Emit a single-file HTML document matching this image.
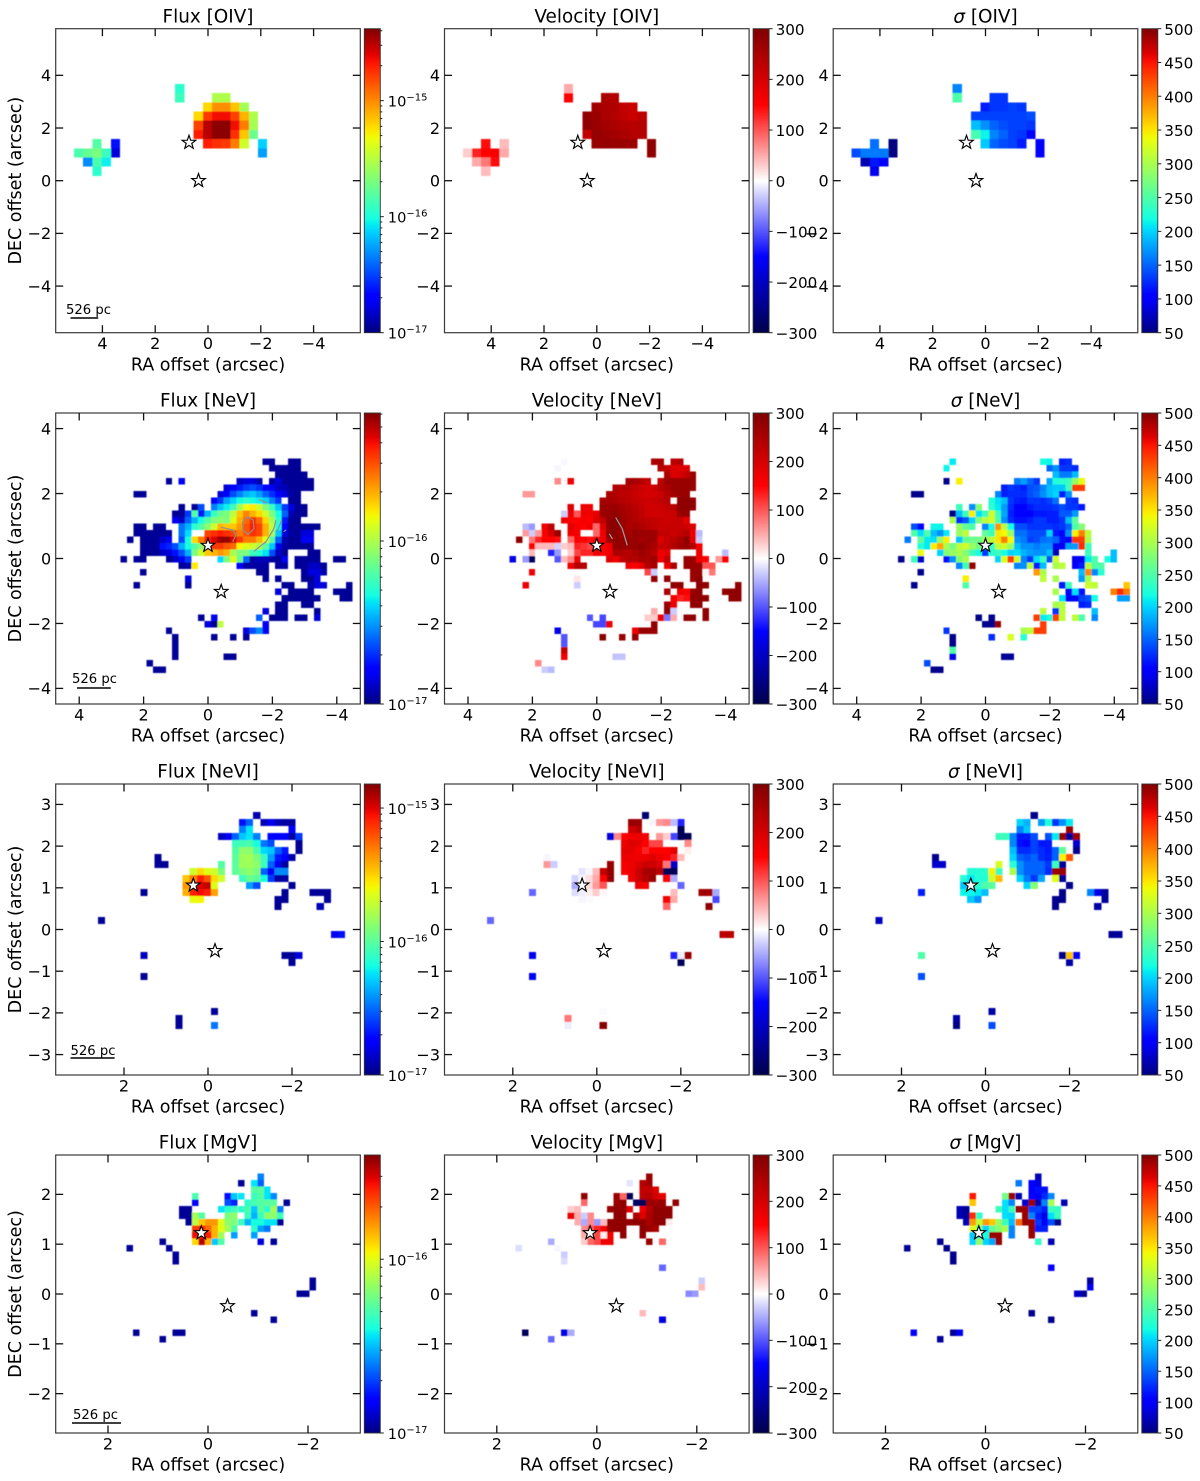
<!DOCTYPE html>
<html lang="en">
<head>
<meta charset="utf-8">
<title>Emission line maps</title>
<style>
html,body{margin:0;padding:0;background:#fff}
svg{display:block}
text{font-family:"DejaVu Sans","Liberation Sans",sans-serif;fill:#000}
</style>
</head>
<body>
<svg id="figure" xmlns="http://www.w3.org/2000/svg" width="1200" height="1481" viewBox="0 0 1200 1481">
<defs><filter id="soft" x="-5%" y="-5%" width="110%" height="110%"><feGaussianBlur stdDeviation="0.45"/></filter></defs>
</svg>
<script>
/* Map cells: each entry is [gridRow, firstGridColumn, value, value, ...].
   Flux values = position on the logarithmic colour bar in percent; velocity and sigma = km/s. */
const fluxOIV=[[0,11,40],[1,11,42],[1,15,56,56],[2,14,68,76,76,70,55],[3,13,68,85,90,90,84,72,56],[4,13,84,95,99,99,90,78,55],[5,13,88,95,99,99,86,70,48],[6,2,45],[6,4,14],[6,14,88,86,85,78,60],[6,20,33],[7,0,44,47,50,42,8],[7,20,28],[8,1,26,44,36],[9,2,40]];
const velOIV=[[0,11,50],[1,11,150],[1,15,250,240],[2,14,260,250,245,220,215],[3,13,280,270,250,240,225,215,230],[4,13,280,270,260,250,240,235,240],[5,13,220,275,265,260,250,240,240],[6,2,140],[6,4,40],[6,14,270,275,270,270,265],[6,20,280],[7,0,30,130,150,160,50],[7,20,280],[8,1,50,80,140],[9,2,40]];
const sigOIV=[[0,11,165],[1,11,250],[1,15,130,130],[2,14,120,130,130,135,130],[3,13,135,135,135,135,135,135,140],[4,13,190,170,150,140,135,135,130],[5,13,245,215,165,150,135,130,100],[6,2,155],[6,4,50],[6,14,195,150,140,135,120],[6,20,105],[7,0,140,160,160,160,50],[7,20,105],[8,1,70,115,105],[9,2,95]];

const fluxNeV=[[0,22,2,2],[0,26,2,2],[1,23,2,2,2,2,2],[2,24,2,2,2,2,2],[3,7,2],[3,9,12],[3,18,6,8,8,4],[3,23,2,8,2,2,2,2,2],[4,16,8,12,15,18,20,17,12,10,6,5,2,2,2,2],[5,2,2,2],[5,15,8,12,20,25,30,32,28,22,17,12,8,3,2],[6,14,12,18,28,33,38,40,38,36,33,25,18],[6,26,2,2],[7,9,2],[7,11,2,20],[7,14,25,32,36,42,55,64,66,60,50,42,32,18,8,2,2],[8,8,2,2,18,45,15,30,42,48,50,58,70,77,72,68,60,50,38,22,4,2,2],[9,8,10,6,22,30,38,45,50,52,50,62,72,80,86,80,68,55,40,15,2,2],[10,2,2,2],[10,5,2,2],[10,9,24,30,40,45,52,60,72,70,70,75,82,88,84,72,58,38,12,2,2,2,2,2],[11,2,2,2,2,2,2,2],[11,9,24,34],[11,13,84,86,88,86,84,78,82,86,84,72,55,32,8,3,2,8,8],[12,1,2],[12,3,2,2,2,6,10],[12,9,20,38,68,78,88,92,98,98,92,85,78,78,72,62,45,22,4,2,2,10,10],[13,3,2,2,2,14,16,20,30,38,45,52,75,85,85,82,80,65,62,60,56,45,32,10,3,2,2,2,2],[14,3,2,2,2,6,8,14,20,30,50,60,70,72,75,72,55,50,50,42,40,35,20,6,2],[14,29,2,2],[15,0,2],[15,2,2,2],[15,7,2,6,10,18],[15,15,34,50,62,48,22,3,5,5,3,2,10],[15,27,2,2,2,2],[15,33,2,2],[16,9,2,4,66],[16,18,12,3,3,3,3],[16,24,3,3],[16,27,2,2,6,6,2],[17,3,2],[17,21,2,2],[17,28,2,8,8,4],[18,10,8],[18,22,2],[18,24,2],[18,28,2,2,8],[19,2,2],[19,10,2],[19,25,2,2],[19,29,4,8,8],[19,35,2],[20,24,8],[20,26,2,2,2,2],[20,33,2,2,2],[21,25,2,2,2,2,2,2],[21,34,2,2],[22,24,2,2],[22,28,2,2],[23,22,8],[23,24,2,2],[23,30,2],[24,12,2],[24,14,10],[24,21,22],[24,23,2,2,2],[24,27,2,2],[24,30,8],[25,13,8,2,58],[25,22,10],[26,7,2],[26,19,8,20,26,10],[27,8,2],[27,14,2],[27,17,2],[27,19,2],[28,8,2],[29,8,2],[30,8,2],[30,16,2,2],[31,4,2],[32,5,2,2]];
const velNeV=[[0,8,-4],[0,22,250,250],[0,25,230,240],[1,7,-5],[1,23,240,220,190,190,190],[2,24,250,190,200,220,270],[3,7,70],[3,9,170],[3,18,260,255,240,220],[3,23,230,270,270,270,270,270],[4,16,240,240,235,220,210,200,210,240,250,270,270,270,270],[5,2,60,60],[5,15,250,240,230,225,215,205,200,200,215,240,260,270,270],[6,14,255,255,245,240,230,220,215,210,215,225,235],[6,26,280,280,280],[7,9,190],[7,11,170,170],[7,14,270,265,270,255,245,235,220,205,205,210,220,235,280,280,280],[8,8,-30,170,100,170,165,180,265,270,280,260,250,240,225,210,205,205,210,215,270,275],[9,8,170,150,150,160,150,190,220,280,285,270,255,240,235,225,220,215,210,215,215,180],[10,2,-40,-60],[10,5,170,230],[10,9,180,160,150,165,90,185,280,285,270,250,255,245,235,225,215,215,215,215,210,190],[11,2,60,-30,60,160,200,270],[11,9,170,160],[11,13,90,170,285,285,260,260,275,270,265,265,220,220,210,220,240,170,-40],[12,1,280],[12,3,80,130,150,150,145],[12,9,90,150,150,140,160,165,265,280,275,270,270,260,265,265,190,220,230,250,280,180,-30],[13,3,150,40,40,40,-25,30,40,130,120,110,130,150,170,280,275,270,275,280,265,250,215,220,240,260,270,240,160],[14,3,40],[14,6,-130,-60],[14,9,30,110,130,130,170,150,170,250,245,235,250,265,255,235,170,180],[14,29,170],[14,33,-40],[15,0,-170],[15,2,-60,-290],[15,7,-100,40,70,170],[15,15,190,170,220,240,240,255,250,265,170,220],[15,27,270,270,170,150],[15,32,60,150],[16,9,170,240,240],[16,18,170,150,180,240,255],[16,24,170,250],[16,27,270,270,270,100,100],[17,3,170],[17,21,110,-30],[17,28,270,270,5,80],[18,10,15],[18,22,280],[18,24,280],[18,28,270,280],[19,2,170],[19,10,-30],[19,25,280,280],[19,29,280,280],[19,35,280],[20,24,250],[20,26,170,150,270,280],[20,33,280,280,280],[21,25,160,130,140,280,280,280],[21,34,280,280],[22,24,270,170],[22,28,280,280],[23,22,50],[23,24,280,-30],[23,30,280],[24,12,-100],[24,14,-110],[24,21,30,30,170,-80,50],[24,27,280,280],[24,30,280],[25,13,-110,-110,170],[25,22,280],[26,7,-170],[26,19,170,270,270,270],[27,8,-100],[27,14,290],[27,17,270],[27,19,280],[28,8,-100],[29,8,220],[30,8,170],[30,16,-35,-35],[31,4,70],[32,5,-30,-40]];
const sigNeV=[[0,8,210],[0,22,220,215],[0,25,120,125],[1,7,215],[1,23,150,170,130,130,125],[2,24,190,160,160,190],[3,7,55],[3,9,345],[3,18,160,175,150,130],[3,23,180,225,230,240,290,335],[4,16,120,130,125,120,140,145,165,190,195,195,240,430,430],[5,2,55,55],[5,15,165,120,125,125,125,140,150,170,190,200,120,170],[6,14,225,205,190,130,120,115,130,130,125,135,155],[6,26,130,125],[7,9,240],[7,11,170,280],[7,14,230,210,175,125,105,100,115,125,125,125,130,140,130,130,115],[8,8,55,190,240,345,205,240,320,240,180,120,105,100,105,115,115,120,120,145,145,175],[9,8,300,125,145,200,275,310,320,250,170,125,110,110,120,130,130,120,120,130,190,260],[10,2,140,100],[10,5,215,215],[10,9,290,260,250],[10,13,165,220,390,310,220,140,140,130,130,130,130,125,130,150,250,280],[11,2,250,205,250,190,170,210],[11,9,290,310],[11,13,260,240,350,340,290,155,155,140,140,140,200,115,105,170,345,400,310],[12,1,160],[12,3,260,210,205,290,345],[12,9,195,260,265,270,290,310,350,400,340,170,160,135,140,155,160,150,110,100,430,430,300],[13,3,225,210,345,380,300,270,310,320,290,270,220,240,310,320,290,190,170,170,160,170,170,95,95,175,175,440,240],[14,3,335],[14,6,200,280,290,300,280,240,220,130,230,240,220,200,205,185,175,170,170,190,70],[14,29,240],[14,33,190],[15,0,55],[15,2,240,80],[15,7,110,170,280,300],[15,15,200,325,430,320,165,130,205,240,140,320],[15,27,95,95,210,250],[15,32,220,190],[16,9,165,240,490],[16,18,165,170,310,120,190],[16,24,300,310],[16,27,100,120,310,250,250],[17,3,55],[17,21,385,300],[17,28,190,395,165,230],[18,10,345],[18,22,310],[18,24,300],[18,28,175,300],[19,2,55],[19,10,250],[19,25,115,240],[19,29,320,310],[19,35,365],[20,24,300],[20,26,100,205,110],[20,33,400,440,400],[21,25,205,100,100,135,140,220],[21,34,175,175],[22,24,300,305],[22,28,120,125],[23,22,310],[23,24,130,310],[23,30,190],[24,12,55],[24,14,55],[24,21,430,210,220,430,310],[24,27,310,250],[24,30,165],[25,13,55,55,490],[25,22,430],[26,7,130],[26,19,300,310,430,430],[27,8,55],[27,14,125],[27,17,325],[27,19,230],[28,8,55],[29,8,250],[30,8,90],[30,16,60,60],[31,4,140],[32,5,55,55]];

const fluxNeVI=[[0,22,4],[1,20,14,22],[1,23,5,10,5,3,3],[2,20,25,35],[2,27,12],[3,17,6,10,22,32,35,25],[3,24,12,12,12,3,18],[4,19,42,43,44,38,24,20],[4,28,2],[5,19,45,52,52,44,34,32,22,15],[5,28,2],[6,8,2],[6,19,46,54,55,50,42,28,15,12,4],[7,8,2,2],[7,17,45],[7,19,46,54,54,52,42,22,10,3],[8,13,60,68,62,60,50],[8,19,46,50,52,50,22,12,26,26],[9,12,70,78,88,82,68,60],[9,20,42,48,46,38,18],[9,25,3,3],[10,12,75,85,92,94,62],[10,21,28,20],[10,27,2],[11,6,2],[11,12,72,88,90,88,74],[11,26,2],[11,30,2,2,2],[12,13,63,65],[12,25,2,2],[12,32,2],[13,25,2],[13,31,5],[15,0,2],[17,33,10,14],[20,6,5],[20,26,2,2,8],[21,27,2],[23,6,2],[28,16,2],[29,11,2],[30,11,2],[30,16,24]];
const velNeVI=[[0,22,-270],[1,20,270,265],[1,23,-5,60,70,-40,-130],[2,20,210,230],[2,27,-290],[3,17,-180,70,150,170,170,160],[3,24,60,30,-110,-290,-290],[4,19,170,190,180,150,110,110],[4,28,70],[5,19,180,180,160,130,150,150,150,180],[5,28,10],[6,8,-5],[6,19,175,170,170,170,190,170,160,130,40],[7,8,60,-30],[7,17,270],[7,19,160,170,190,210,210,190,80,-200],[8,13,-15,-5,40,220,280],[8,19,160,170,210,250,260,230,-290,-290],[9,12,-25,-5,20,50,150,280],[9,20,170,210,240,270],[9,25,150,-50],[10,12,-50,-10,20,60,100],[10,21,170,160],[10,27,-90],[11,6,-90],[11,12,-20,-10,10,30,5],[11,26,40],[11,30,260,260,-50],[12,13,-5,-3],[12,25,160,50],[12,32,-110],[13,25,90],[13,31,280],[15,0,-90],[17,33,230,230],[20,6,-160],[20,26,-130,-10,270],[21,27,-290],[23,6,-160],[28,16,-3],[29,11,80],[30,11,-10],[30,16,290]];
const sigNeVI=[[0,22,55],[1,20,200,185],[1,23,175,225,130,170,210],[2,20,165,195],[2,27,490],[3,17,240,240,165,115,115,140],[3,24,140,210,490,60,490],[4,19,165,110,105,135,115,115],[4,28,80],[5,19,190,125,125,135,125,115,150,260],[5,28,55],[6,8,55],[6,19,200,150,140,150,125,120,150,345,420],[7,8,80,80],[7,17,325],[7,19,230,170,150,150,150,130,240,60],[8,13,225,225,230,345,240],[8,19,300,170,150,150,150,125,490,490],[9,12,225,210,225,225,320,370],[9,20,200,160,130,180],[9,25,330,60],[10,12,195,190,230,250,255],[10,21,200,280],[10,27,55],[11,6,120],[11,12,215,215,210,190],[11,26,55],[11,30,165,90,60],[12,13,195,170],[12,25,55,55],[12,32,60],[13,25,55],[13,31,65],[15,0,75],[17,33,60,60],[20,6,250],[20,26,55,365,95],[21,27,65],[23,6,140],[28,16,65],[29,11,65],[30,11,50],[30,16,140]];

const fluxMgV=[[0,20,25],[1,17,2],[1,19,35,22],[2,19,45,46,35],[3,10,44],[3,15,14,32,35],[3,19,42,45,35,26],[4,10,12],[4,15,20,16],[4,18,40,44,45,46,46],[4,24,2],[5,8,2,2],[5,14,35,40,42,40,44,32,46,40,55,25],[6,8,2,2,55,45],[6,15,50,52],[6,18,42,30,42,52,52,42],[7,9,2,58,70,75,75,62,52,50,42,30,38,38,35,35,2],[8,10,85,88,80,72,62,55,44],[8,19,40,28,24],[9,10,90,88,88,72,55],[9,16,28],[9,19,28],[10,5,2],[10,10,68,95,72,32,45],[10,20,8],[10,22,2],[11,0,2],[11,6,2],[12,7,2],[13,7,2],[16,28,2],[17,28,2],[18,26,2,2],[21,19,2],[22,22,2],[24,1,2],[24,7,2,2],[25,5,2]];
const velMgV=[[0,20,270],[1,17,-15],[1,19,240,260],[2,19,220,220,190],[3,10,280],[3,15,270,90,-290],[3,19,230,240,200,180],[4,10,90],[4,15,270,280],[4,18,-280,-290,270,260,270],[4,24,280],[5,8,30,40],[5,14,270,280,280,190],[5,19,170,240,280,280,280],[6,8,170,50,-30,70],[6,15,280,280],[6,18,250,190,250,280,280,280],[7,9,50,-50,70,-60,40,280,280,280,280,280,280,250,280,280,10],[8,10,70,100,130,160,270,280,280],[8,19,280,270,250],[9,10,50,60,110,10,160],[9,16,280],[9,19,280],[10,5,-50],[10,10,30,90,110,170,170],[10,20,270],[10,22,90],[11,0,-20],[11,6,-5],[12,7,-30],[13,7,-20],[14,22,-90],[16,28,-30],[17,28,40],[18,26,-70,-60],[21,19,40],[22,22,-170],[24,1,-290],[24,7,-170,-50],[25,5,-90]];
const sigMgV=[[0,20,70],[1,17,160],[1,19,100,90],[2,19,100,110,110],[3,10,450],[3,15,270,490,70],[3,19,100,100,125,165],[4,10,365],[4,15,205,165],[4,18,80,490,70,165,300],[4,24,70],[5,8,70,60],[5,14,240,205,240,490,490,135,135,120,240,235],[6,8,70,60,440,230],[6,15,205,200],[6,18,490,165,120,90,205,240],[7,9,70,385,310,385,365,290,240,190,410,490,490,130,100,140,55],[8,10,330,270,200,260,280,300,165],[8,19,490,120,120],[9,10,195,210,220,490,490],[9,16,165],[9,19,490],[10,5,55],[10,10,200,290,200,180,490],[10,20,235],[10,22,70],[11,0,60],[11,6,55],[12,7,55],[13,7,55],[14,22,100],[16,28,60],[17,28,95],[18,26,80,60],[21,19,55],[22,22,55],[24,1,100],[24,7,60,95],[25,5,60]];

/* Tick values and labels */
const velTicks=[-300,-200,-100,0,100,200,300];
const sigTicks=[50,100,150,200,250,300,350,400,450,500];
const fluxTicksOIV=[-17,-16,-15];
const fluxTicksNeV=[-17,-16];
const fluxTicksNeVI=[-17,-16,-15];
const fluxTicksMgV=[-17,-16];
const raTicksOIV=[4,2,0,-2,-4];
const decTicksOIV=[4,2,0,-2,-4];
const raTicksNeV=[4,2,0,-2,-4];
const decTicksNeV=[4,2,0,-2,-4];
const raTicksNeVI=[2,0,-2];
const decTicksNeVI=[3,2,1,0,-1,-2,-3];
const raTicksMgV=[2,0,-2];
const decTicksMgV=[2,1,0,-1,-2];
const lineNames=['OIV','NeV','NeVI','MgV'];
const starsOIV=[[0.72,1.45],[0.36,0]];
const starsNeV=[[0,0.4],[-0.41,-1.02]];
const starsNeVI=[[0.35,1.06],[-0.167,-0.51]];
const starsMgV=[[0.134,1.225],[-0.39,-0.24]];
/* Contours in grid (column,row) coordinates */
const contoursFluxNeV=[[[18.9,9.8],[19.7,9],[20.6,9.5],[20.7,10.8],[19.8,11.7],[19,11.05],[18.9,9.8]],[[15.6,10.6],[17.4,11],[17.9,11.8],[17.4,12.85]],[[21.5,6.3],[22.7,6.9]],[[22.4,13.1],[23.8,10.8],[24.1,9.5]],[[20.7,14.3],[22.5,12.85]],[[24.3,11.2],[25,9.5]],[[25.3,11.3],[25.7,11]]];
const contoursVelNeV=[[[16.5,9.1],[17.5,10.8],[18.3,13.4]],[[15.5,11.6],[16,12.4]]];

/* Layout */
const colLeft=[55.7,444.5,833.2], axW=304.6, cbGap=4, cbW=16;
const rowCfg=[
 {top:28.7,h:304,xl:5.77,yl:5.77,ra0:5.076,dec0:3.67,pix:0.3485,decades:2.62,ft:fluxTicksOIV,xt:raTicksOIV,yt:decTicksOIV,stars:starsOIV,maps:[fluxOIV,velOIV,sigOIV],barLen:1.05,barY:318,txtY:314,barX:70.5,txtX:88.5},
 {top:413,h:291,xl:4.73,yl:4.48,ra0:2.712,dec0:3.082,pix:0.2,decades:1.785,ft:fluxTicksNeV,xt:raTicksNeV,yt:decTicksNeV,stars:starsNeV,maps:[fluxNeV,velNeV,sigNeV],barLen:1.05,barY:688,txtY:683,barX:77,txtX:94.5},
 {top:784,h:291,xl:3.626,yl:3.49,ra0:2.619,dec0:2.818,pix:0.168,decades:2.18,ft:fluxTicksNeVI,xt:raTicksNeVI,yt:decTicksNeVI,stars:starsNeVI,maps:[fluxNeVI,velNeVI,sigNeVI],barLen:1.05,barY:1058,txtY:1055,barX:70.5,txtX:93},
 {top:1155,h:278,xl:3.046,yl:2.79,ra0:1.627,dec0:2.423,pix:0.1307,decades:1.6,ft:fluxTicksMgV,xt:raTicksMgV,yt:decTicksMgV,stars:starsMgV,maps:[fluxMgV,velMgV,sigMgV],barLen:0.98,barY:1423,txtY:1419,barX:72,txtX:95.5}
];

const root=document.getElementById('figure');
const NS='http://www.w3.org/2000/svg';
function mk(tag,attrs,parent){
  const e=document.createElementNS(NS,tag);
  for(const k in attrs)e.setAttribute(k,attrs[k]);
  (parent||root).appendChild(e);
  return e;
}
function interp(t,pts){
  for(let i=1;i<pts.length;i++){
    if(t<=pts[i][0]){const a=pts[i-1],b=pts[i];return a[1]+(b[1]-a[1])*(t-a[0])/(b[0]-a[0]);}
  }
  return pts[pts.length-1][1];
}
function clamp(t){return Math.max(0,Math.min(1,t));}
function hex(r,g,b){return 'rgb('+Math.round(r*255)+','+Math.round(g*255)+','+Math.round(b*255)+')';}
function jet(t){
  t=clamp(t);
  return hex(interp(t,[[0,0],[.35,0],[.66,1],[.89,1],[1,.5]]),interp(t,[[0,0],[.125,0],[.375,1],[.64,1],[.91,0],[1,0]]),interp(t,[[0,.5],[.11,1],[.34,1],[.65,0],[1,0]]));
}
function seismic(t){
  t=clamp(t);
  return hex(interp(t,[[0,0],[.25,0],[.5,1],[.75,1],[1,.5]]),interp(t,[[0,0],[.25,0],[.5,1],[.75,0],[1,0]]),interp(t,[[0,.3],[.25,1],[.5,1],[.75,0],[1,0]]));
}
function minus(v){return v<0?'\u2212'+(-v):''+v;}
function label(txt,x,y,size,anchor,parent){
  const t=mk('text',{x:x,y:y,'font-size':size,'text-anchor':anchor||'middle'},parent);
  t.textContent=txt;
  return t;
}

rowCfg.forEach(function(cfg,ri){
  const line=lineNames[ri];
  colLeft.forEach(function(left,ci){
    const kinds=['flux','velocity','sigma'];
    const kind=kinds[ci];
    const g=mk('g',{});
    
    
    const sx=axW/(2*cfg.xl), sy=cfg.h/(2*cfg.yl);
    const xc=left+axW/2, yc=cfg.top+cfg.h/2;
    const X=function(ra){return xc-ra*sx;};
    const Y=function(dec){return yc-dec*sy;};
    const cellX=function(c){return X(cfg.ra0-c*cfg.pix);};
    const cellY=function(r){return Y(cfg.dec0-r*cfg.pix);};
    const colourOf=function(v){
      if(ci===0)return jet(v/100);
      if(ci===1)return seismic((v+300)/600);
      return jet((v-50)/450);
    };
    /* heatmap cells */
    const cells=mk('g',{filter:'url(#soft)','shape-rendering':'crispEdges'},g);
    
    
    cfg.maps[ci].forEach(function(row){
      for(let k=2;k<row.length;k++){
        const c=row[1]+k-2, r=row[0];
        const rect=mk('rect',{x:cellX(c).toFixed(2),y:cellY(r).toFixed(2),width:(cellX(c+1)-cellX(c)).toFixed(2),height:(cellY(r+1)-cellY(r)).toFixed(2),fill:colourOf(row[k])},cells);
        
        
      }
    });
    /* contours */
    let contours=null, cstroke='#8f8f8f';
    if(ri===1&&ci===0)contours=contoursFluxNeV;
    if(ri===1&&ci===1){contours=contoursVelNeV;cstroke='#8fa8a8';}
    if(contours){
      contours.forEach(function(pts){
        const pl=mk('polyline',{points:pts.map(function(p){return cellX(p[0]).toFixed(1)+','+cellY(p[1]).toFixed(1);}).join(' '),fill:'none',stroke:cstroke,'stroke-width':1.2},g);
        
        
      });
    }
    /* nucleus stars */
    cfg.stars.forEach(function(s){
      const cx=X(s[0]),cy=Y(s[1]);
      let pts=[];
      for(let i=0;i<10;i++){
        const rad=i%2?2.9:7.2, a=-Math.PI/2+i*Math.PI/5;
        pts.push((cx+rad*Math.cos(a)).toFixed(1)+','+(cy+rad*Math.sin(a)).toFixed(1));
      }
      const st=mk('polygon',{points:pts.join(' '),fill:'#fff',stroke:'#000','stroke-width':1.15},g);
      
      
    });
    /* axes frame */
    const frame=mk('rect',{x:left,y:cfg.top,width:axW,height:cfg.h,fill:'none',stroke:'#3a3a3a','stroke-width':1.2},g);
    
    
    /* x ticks */
    cfg.xt.forEach(function(v){
      const px=X(v);
      const t1=mk('line',{x1:px,x2:px,y1:cfg.top+cfg.h,y2:cfg.top+cfg.h-7.5,stroke:'#111','stroke-width':1.3},g);
      
      
      const t2=mk('line',{x1:px,x2:px,y1:cfg.top,y2:cfg.top+7.5,stroke:'#111','stroke-width':1.3},g);
      
      
      const l=label(minus(v),px,cfg.top+cfg.h+16.5,16,'middle',g);
      
      
    });
    /* y ticks */
    cfg.yt.forEach(function(v){
      const py=Y(v);
      const t1=mk('line',{x1:left,x2:left+7.5,y1:py,y2:py,stroke:'#111','stroke-width':1.3},g);
      
      
      const t2=mk('line',{x1:left+axW,x2:left+axW-7.5,y1:py,y2:py,stroke:'#111','stroke-width':1.3},g);
      
      
      const l=label(minus(v),left-4.5,py+5.8,16,'end',g);
      
      
    });
    /* titles and axis labels */
    const title=mk('text',{x:xc,y:cfg.top-6.4,'font-size':18.4,'text-anchor':'middle'},g);
    
    
    if(ci===2){
      const sig=mk('tspan',{'font-style':'italic'},title);
      sig.textContent='\u03c3';
      const rest=mk('tspan',{},title);
      rest.textContent=' ['+line+']';
    }else{
      title.textContent=(ci===0?'Flux':'Velocity')+' ['+line+']';
    }
    const xl=label('RA offset (arcsec)',xc,cfg.top+cfg.h+37.6,17.5,'middle',g);
    
    
    if(ci===0){
      const yl=mk('text',{x:0,y:0,'font-size':17.5,'text-anchor':'middle',transform:'translate(21 '+yc+') rotate(-90)'},g);
      yl.textContent='DEC offset (arcsec)';
      
      
      /* scale bar */
      const bl=cfg.barX, bw=cfg.barLen*sx;
      const sb=mk('line',{x1:bl,x2:bl+bw,y1:cfg.barY,y2:cfg.barY,stroke:'#000','stroke-width':1.6},g);
      
      
      const sl=label('526 pc',cfg.txtX,cfg.txtY,13.2,'middle',g);
      
      
    }
    /* colour bar */
    const cbx=left+axW+cbGap;
    const gid='cb'+ri+ci;
    const defs=mk('linearGradient',{id:gid,x1:0,y1:1,x2:0,y2:0},root.querySelector('defs'));
    for(let i=0;i<=48;i++){
      mk('stop',{offset:(i/48).toFixed(4),'stop-color':(ci===1?seismic:jet)(i/48)},defs);
    }
    const cb=mk('rect',{x:cbx,y:cfg.top,width:cbW,height:cfg.h,fill:'url(#'+gid+')',stroke:'#333','stroke-width':0.9},g);
    
    
    const cbTick=function(py,len){
      const t=mk('line',{x1:cbx+cbW,x2:cbx+cbW+len,y1:py,y2:py,stroke:'#222','stroke-width':1},g);
      
      
    };
    if(ci===0){
      const decY=function(ex){return cfg.top+cfg.h-(ex+17)/cfg.decades*cfg.h;};
      cfg.ft.forEach(function(ex){
        const py=decY(ex);
        cbTick(py,3.5);
        const t=mk('text',{x:cbx+cbW+7.5,y:py+6,'font-size':14.6},g);
        
        
        const base=mk('tspan',{},t);
        base.textContent='10';
        const sup=mk('tspan',{dy:-6,'font-size':10},t);
        sup.textContent=minus(ex);
      });
      for(let d=-17;d<-17+cfg.decades;d++){
        for(let m=2;m<10;m++){
          const ex=d+Math.log10(m);
          if(ex+17<=cfg.decades)cbTick(decY(ex),2);
        }
      }
    }else{
      const ticks=ci===1?velTicks:sigTicks;
      const lo=ticks[0],hi=ticks[ticks.length-1];
      ticks.forEach(function(v){
        const py=cfg.top+cfg.h-(v-lo)/(hi-lo)*cfg.h;
        cbTick(py,3.5);
        const l=label(minus(v),cbx+cbW+6.5,py+6.2,15.2,'start',g);
        
        
      });
    }
  });
});
</script>
</body>
</html>
